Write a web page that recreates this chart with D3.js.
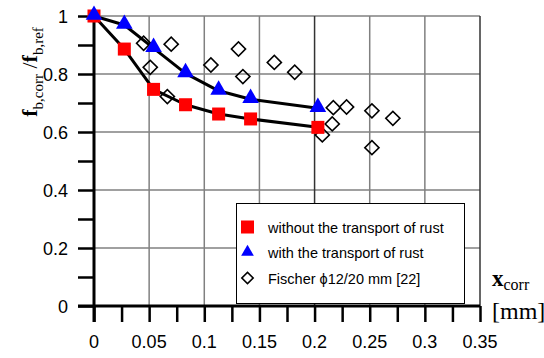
<!DOCTYPE html>
<html>
<head>
<meta charset="utf-8">
<script src="https://cdn.jsdelivr.net/npm/d3@7"></script>
<style>
  body { margin: 0; background: #fff; }
  svg { display: block; }
</style>
</head>
<body>
<svg id="chart" width="544" height="358"></svg>
<script>
// series
const withoutX = [0, 0.0275, 0.054, 0.083, 0.113, 0.142, 0.203];
const withoutY = [1, 0.886, 0.747, 0.694, 0.662, 0.645, 0.616];
const withX = [0, 0.0275, 0.054, 0.083, 0.113, 0.142, 0.203];
const withY = [1, 0.969, 0.889, 0.802, 0.742, 0.713, 0.682];
const fischerX = [0.045, 0.051, 0.0665, 0.070, 0.106, 0.131, 0.135, 0.1635, 0.182, 0.207, 0.216, 0.217, 0.229, 0.252, 0.252, 0.271];
const fischerY = [0.906, 0.823, 0.722, 0.903, 0.831, 0.886, 0.791, 0.840, 0.806, 0.590, 0.628, 0.684, 0.686, 0.673, 0.546, 0.647];
const xTicks = [0, 0.05, 0.1, 0.15, 0.2, 0.25, 0.3, 0.35];
const yTicks = [0, 0.2, 0.4, 0.6, 0.8, 1];
const legendLabels = ["without the transport of rust", "with the transport of rust", "Fischer \u03d512/20 mm [22]"];

const x = d3.scaleLinear().domain([0, 0.35]).range([94, 480]);
const y = d3.scaleLinear().domain([0, 1]).range([306, 16]);

const $svg = d3.select("#chart");
const sans = "'Liberation Sans', Arial, sans-serif";
const serif = "'Liberation Serif', 'Times New Roman', serif";

// grid
const $grid = $svg.append("g");
$grid.selectAll("line.h")
  .data(yTicks.slice(1))
  .enter()
  .append("line")
  .attr("x1", x(0)).attr("x2", x(0.35))
  .attr("y1", (d) => y(d)).attr("y2", (d) => y(d))
  .attr("stroke", "#808080").attr("stroke-width", 1.5);
$grid.selectAll("line.v")
  .data(xTicks.slice(1))
  .enter()
  .append("line")
  .attr("x1", (d) => x(d)).attr("x2", (d) => x(d))
  .attr("y1", y(1)).attr("y2", y(0))
  .attr("stroke", (d) => (d === 0.2 || d === 0.35 ? "#333" : "#808080"))
  .attr("stroke-width", 1.5);

// axes
const xAxis = d3.axisBottom(x)
  .tickValues(d3.range(0, 0.3501, 0.025))
  .tickSize(16)
  .tickFormat("");
const $xa = $svg.append("g").attr("transform", `translate(0,${y(0)})`).call(xAxis);
$xa.select(".domain").remove();
$xa.selectAll("line").attr("stroke", "#000").attr("stroke-width", 2.5);

const yAxis = d3.axisLeft(y)
  .tickValues(d3.range(0, 1.001, 0.1))
  .tickSize(16)
  .tickFormat("");
const $ya = $svg.append("g").attr("transform", `translate(${x(0)},0)`).call(yAxis);
$ya.select(".domain").remove();
$ya.selectAll("line").attr("stroke", "#000").attr("stroke-width", 2.5);

$svg.append("line")
  .attr("x1", x(0) - 16).attr("x2", x(0.35))
  .attr("y1", y(0)).attr("y2", y(0))
  .attr("stroke", "#000").attr("stroke-width", 3);
$svg.append("line")
  .attr("x1", x(0)).attr("x2", x(0))
  .attr("y1", y(1)).attr("y2", y(0) + 16)
  .attr("stroke", "#000").attr("stroke-width", 3);

// tick labels
$svg.append("g").selectAll("text")
  .data(xTicks)
  .enter()
  .append("text")
  .attr("x", (d) => x(d))
  .attr("y", 348)
  .attr("text-anchor", "middle")
  .style("font-family", sans)
  .style("font-size", "18px")
  .text((d) => d3.format("")(d));
$svg.append("g").selectAll("text")
  .data(yTicks)
  .enter()
  .append("text")
  .attr("x", 68)
  .attr("y", (d) => y(d) + 6.5)
  .attr("text-anchor", "end")
  .style("font-family", sans)
  .style("font-size", "18px")
  .text((d) => d3.format("")(d));

// axis titles
const $yt = $svg.append("text")
  .attr("transform", "translate(37,72) rotate(-90)")
  .attr("text-anchor", "middle")
  .style("font-family", serif)
  .style("font-size", "22px");
$yt.append("tspan").style("font-weight", "bold").text("f");
$yt.append("tspan").attr("dy", 6).style("font-size", "15px").text("b,corr");
$yt.append("tspan").attr("dy", -6).text(" /");
$yt.append("tspan").style("font-weight", "bold").text("f");
$yt.append("tspan").attr("dy", 6).style("font-size", "15px").text("b,ref");

const $xt = $svg.append("text")
  .attr("x", 492).attr("y", 286)
  .style("font-family", serif)
  .style("font-size", "23px");
$xt.append("tspan").style("font-weight", "bold").text("x");
$xt.append("tspan").attr("dy", 4).style("font-size", "16px").text("corr");
$svg.append("text")
  .attr("x", 492).attr("y", 319)
  .style("font-family", serif)
  .style("font-size", "24px")
  .text("[mm]");

// lines
const line = d3.line()
  .x((d) => x(d[0]))
  .y((d) => y(d[1]));
const withoutPts = withoutX.map((v, i) => [v, withoutY[i]]);
const withPts = withX.map((v, i) => [v, withY[i]]);
[withoutPts, withPts].forEach((pts) => {
  $svg.append("path")
    .attr("d", line(pts))
    .attr("fill", "none")
    .attr("stroke", "#000")
    .attr("stroke-width", 3)
    .attr("stroke-linejoin", "round");
});

// markers
const diamond = d3.symbol().type(d3.symbolSquare).size(100);
$svg.append("g").selectAll("path")
  .data(fischerX.map((v, i) => [v, fischerY[i]]))
  .enter()
  .append("path")
  .attr("d", diamond)
  .attr("transform", (d) => `translate(${x(d[0])},${y(d[1])}) rotate(45)`)
  .attr("fill", "none")
  .attr("stroke", "#000")
  .attr("stroke-width", 1.6);

$svg.append("g").selectAll("rect")
  .data(withoutPts)
  .enter()
  .append("rect")
  .attr("x", (d) => x(d[0]) - 6.5)
  .attr("y", (d) => y(d[1]) - 6.5)
  .attr("width", 13).attr("height", 13)
  .attr("fill", "#ff0000");

const tri = d3.symbol().type(d3.symbolTriangle).size(120);
$svg.append("g").selectAll("path")
  .data(withPts)
  .enter()
  .append("path")
  .attr("d", tri)
  .attr("transform", (d) => `translate(${x(d[0])},${y(d[1]) - 1})`)
  .attr("fill", "#0000ff");

// legend
const $leg = $svg.append("g");
$leg.append("rect")
  .attr("x", 236.5).attr("y", 203.5)
  .attr("width", 228).attr("height", 100)
  .attr("fill", "#fff").attr("stroke", "#000").attr("stroke-width", 1);
const rowY = [227, 252, 278];
$leg.append("rect").attr("x", 241).attr("y", rowY[0] - 6.5).attr("width", 13).attr("height", 13).attr("fill", "#ff0000");
$leg.append("path").attr("d", d3.symbol().type(d3.symbolTriangle).size(70))
  .attr("transform", `translate(247.5,${rowY[1]})`).attr("fill", "#0000ff");
$leg.append("path").attr("d", d3.symbol().type(d3.symbolSquare).size(64))
  .attr("transform", `translate(247.5,${rowY[2]}) rotate(45)`)
  .attr("fill", "none").attr("stroke", "#000").attr("stroke-width", 1.6);
$leg.selectAll("text.lab")
  .data(legendLabels)
  .enter()
  .append("text")
  .attr("x", 268)
  .attr("y", (d, i) => rowY[i] + 5.5)
  .style("font-family", sans)
  .style("font-size", "14.5px")
  .text((d) => d);
</script>
</body>
</html>
